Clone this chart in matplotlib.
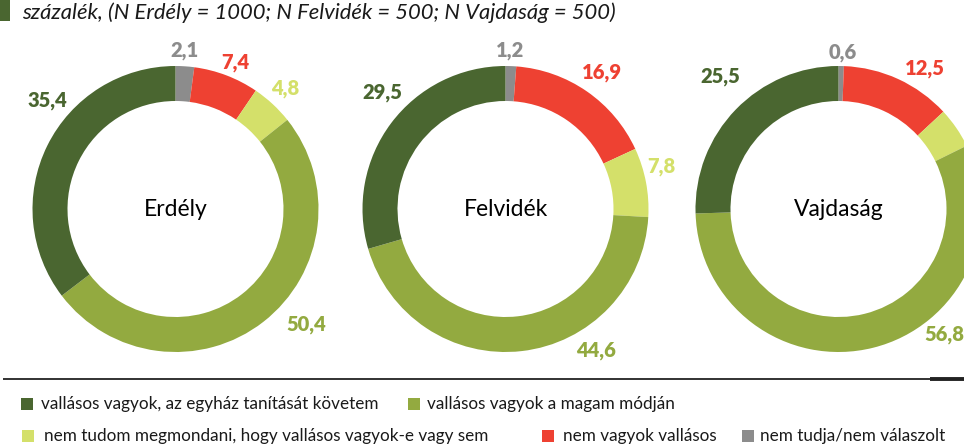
import matplotlib
matplotlib.use("Agg")
import matplotlib.pyplot as plt
from matplotlib.patches import Rectangle

plt.rcParams['font.family'] = ['Lato', 'DejaVu Sans']

# adatok
regions = ["Erdély", "Felvidék", "Vajdaság"]
categories = ["vallásos vagyok, az egyház tanítását követem",
              "vallásos vagyok a magam módján",
              "nem tudom megmondani, hogy vallásos vagyok-e vagy sem",
              "nem vagyok vallásos",
              "nem tudja/nem válaszolt"]
erdely = [35.4, 50.4, 4.8, 7.4, 2.1]
felvidek = [29.5, 44.6, 7.8, 16.9, 1.2]
vajdasag = [25.5, 56.8, 4.6, 12.5, 0.6]
title = "százalék, (N Erdély = 1000; N Felvidék = 500; N Vajdaság = 500)"

colors = ["#4a6630", "#93aa40", "#d4e06a", "#ee4132", "#8c8c8c"]

W, H = 964, 445
fig = plt.figure(figsize=(W / 100, H / 100), dpi=100)
ax = fig.add_axes([0, 0, 1, 1])

centers_x = [175.5, 505.5, 838.5]
cy = H - 209
R = 143
ring = 35

# label offsets (dx, dy) from the ring center, order as in categories
label_off = [
    [(-128, 109), (131, -115), (110, 120), (60, 146), (9, 158)],
    [(-123, 116), (91, -141), (156, 42), (97, 136), (5, 158)],
    [(-118, 132), (106, -126), None, (86, 141), (4, 156)],
]

# clockwise from the top: grey, red, light green, olive, dark green
order = [4, 3, 2, 1, 0]
for i, vals in enumerate([erdely, felvidek, vajdasag]):
    cx = centers_x[i]
    ax.pie([vals[k] for k in order], colors=[colors[k] for k in order],
           center=(cx, cy), radius=R, startangle=90, counterclock=False,
           wedgeprops=dict(width=ring, linewidth=0), frame=True)
    ax.text(cx, cy, regions[i], ha="center", va="center", fontsize=16.5, color="black")
    for k, v in enumerate(vals):
        off = label_off[i][k]
        if off is None:
            continue
        ax.text(cx + off[0], cy + off[1], f"{v:.1f}".replace(".", ","),
                ha="center", va="center", fontsize=14.5, fontweight=800, color=colors[k])

ax.set_xlim(0, W)
ax.set_ylim(0, H)
ax.set_aspect("equal", adjustable="box")
ax.axis("off")

# cím
ax.add_patch(Rectangle((0, H - 21), 10, 21, color=colors[0], lw=0))
ax.text(22, H - 13, title, ha="left", va="center", fontsize=15.8, style="italic", color="#1a1a1a")

# elválasztó vonal
ax.plot([3, W], [H - 379, H - 379], color="#222222", lw=1.3, solid_capstyle="butt")
ax.plot([930, W], [H - 379, H - 379], color="#222222", lw=2.8, solid_capstyle="butt")

# jelmagyarázat
leg_pos = [(21, 404, 41), (408, 404, 427), (22, 436, 44), (542, 436, 563), (742, 436, 760)]
for k, (sx, y, tx) in enumerate(leg_pos):
    ax.add_patch(Rectangle((sx, H - y - 6), 12, 12, color=colors[k], lw=0))
    ax.text(tx, H - y, categories[k], ha="left", va="center", fontsize=12.3, color="#1a1a1a")

fig.savefig("out.png", dpi=100)
